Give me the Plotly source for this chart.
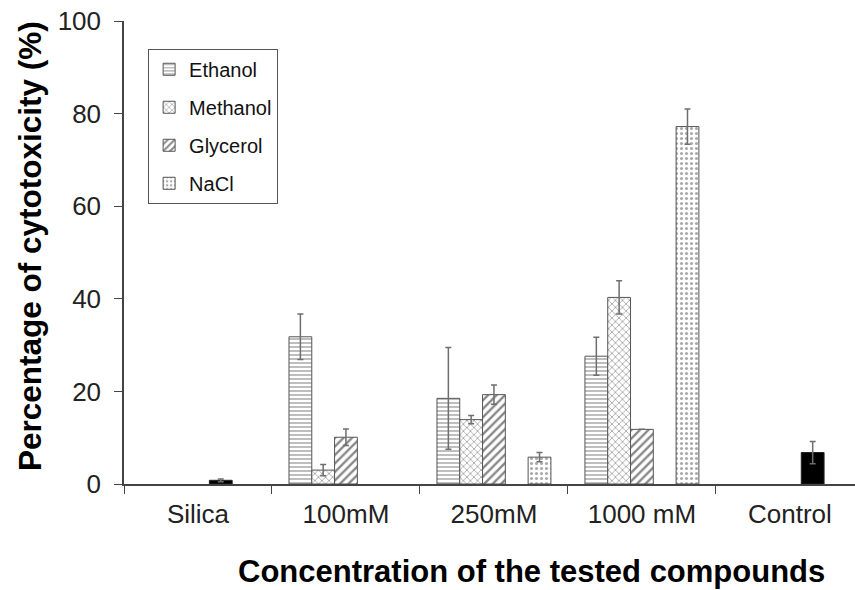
import plotly.graph_objects as go

categories = ["Silica", "100mM", "250mM", "1000 mM", "Control"]

ethanol = [None, 31.8, 18.5, 27.6, None]
ethanol_err = [0, 4.9, 11.0, 4.1, 0]
methanol = [None, 3.0, 13.9, 40.3, None]
methanol_err = [0, 1.2, 0.9, 3.6, 0]
glycerol = [None, 10.1, 19.3, 11.8, None]
glycerol_err = [0, 1.8, 2.1, 0, 0]
control = [0.8, None, None, None, 6.8]
control_err = [0.3, 0, 0, 0, 2.4]
nacl = [None, None, 5.8, 77.2, None]
nacl_err = [0, 0, 1.0, 3.8, 0]

FONT = "Arial, Liberation Sans, sans-serif"

def err(vals):
    return dict(type="data", array=vals, visible=True, color="#6e6e6e",
                thickness=1.5, width=3)

fig = go.Figure()
fig.add_trace(go.Bar(
    name="Ethanol", x=categories, y=ethanol, error_y=err(ethanol_err),
    legendgroup="e",
    marker=dict(color="white", line=dict(color="#555", width=1),
                pattern=dict(shape="-", fgcolor="#444", bgcolor="white", size=4, solidity=0.35))))
fig.add_trace(go.Bar(
    name="Methanol", x=categories, y=methanol, error_y=err(methanol_err),
    legendgroup="m",
    marker=dict(color="white", line=dict(color="#555", width=1),
                pattern=dict(shape="x", fgcolor="#444", bgcolor="white", size=5, solidity=0.3))))
fig.add_trace(go.Bar(
    name="Glycerol", x=categories, y=glycerol, error_y=err(glycerol_err),
    legendgroup="g",
    marker=dict(color="white", line=dict(color="#555", width=1),
                pattern=dict(shape="/", fgcolor="#111", bgcolor="white", size=6, solidity=0.4))))
fig.add_trace(go.Bar(
    name="Control", x=categories, y=control, error_y=err(control_err),
    showlegend=False,
    marker=dict(color="black", line=dict(color="#222", width=1))))
fig.add_trace(go.Bar(
    name="NaCl", x=categories, y=nacl, error_y=err(nacl_err),
    legendgroup="n",
    marker=dict(color="white", line=dict(color="#555", width=1),
                pattern=dict(shape=".", fgcolor="#555", bgcolor="white", size=5, solidity=0.3))))

fig.update_layout(
    width=855, height=590,
    margin=dict(l=124, r=0, t=21, b=106),
    paper_bgcolor="white", plot_bgcolor="white",
    barmode="group", bargap=0.23, bargroupgap=0,
    font=dict(family=FONT, color="#222"),
    showlegend=True,
    legend=dict(x=0.033, y=0.94, xanchor="left", yanchor="top",
                bordercolor="#555", borderwidth=1, bgcolor="white",
                font=dict(size=20, family=FONT, color="#111"),
                traceorder="grouped", tracegroupgap=9),
    xaxis=dict(range=[-0.5, 4.44], showline=True, linecolor="#444", linewidth=1.5,
               ticks="outside", tickson="boundaries", ticklen=8, tickcolor="#444",
               ticklabelstandoff=6,
               tickfont=dict(size=26, family=FONT, color="#222"), showgrid=False,
               zeroline=False),
    yaxis=dict(range=[0, 100], showline=True, linecolor="#444", linewidth=1.5,
               ticks="outside", ticklen=8, tickcolor="#444", tickvals=[0, 20, 40, 60, 80, 100],
               ticklabelstandoff=8,
               tickfont=dict(size=26, family=FONT, color="#222"), showgrid=False,
               zeroline=False),
    annotations=[
        dict(text="<b>Percentage of cytotoxicity (%)</b>", xref="paper", yref="paper",
             x=-0.1286, y=0.514, textangle=-90, showarrow=False,
             font=dict(size=31.5, family=FONT, color="black"), xanchor="center", yanchor="middle"),
        dict(text="<b>Concentration of the tested compounds</b>", xref="paper", yref="paper",
             x=0.558, y=-0.19, showarrow=False,
             font=dict(size=31, family=FONT, color="black"), xanchor="center", yanchor="middle"),
    ],
)

fig.write_html("out.html", config={"displayModeBar": False},
               post_script="document.body.style.margin='0';")
